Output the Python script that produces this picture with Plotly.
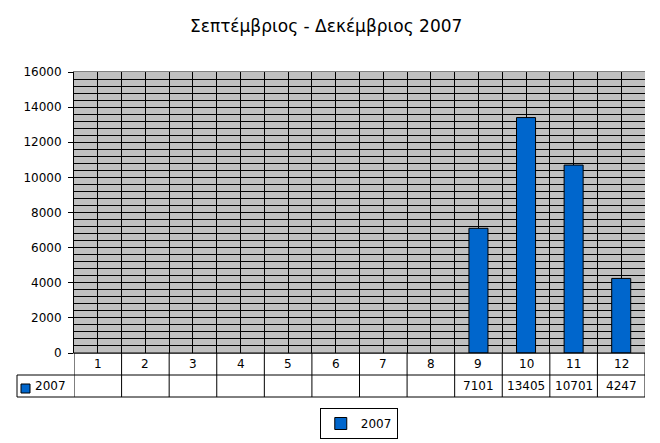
import plotly.graph_objects as go

months = list(range(1, 13))
values_2007 = [None, None, None, None, None, None, None, None, 7101, 13405, 10701, 4247]
series_name = "2007"
title = "Σεπτέμβριος - Δεκέμβριος 2007"

FONT = "DejaVu Sans"
BLUE = "#0066CC"

fig = go.Figure(go.Bar(
    x=months,
    y=values_2007,
    name=series_name,
    width=0.4,
    marker=dict(color=BLUE, line=dict(color="black", width=1)),
))

# plot area is 571 x 281 px; table rows 22 px each under it
row1 = -22 / 281
row2 = -44 / 281
left = -57 / 571

shapes = []
line = dict(color="black", width=1)
# table horizontal lines
shapes.append(dict(type="line", xref="paper", yref="paper", x0=0, x1=1, y0=0, y1=0, line=line))
shapes.append(dict(type="line", xref="paper", yref="paper", x0=left, x1=1, y0=row1, y1=row1, line=line))
shapes.append(dict(type="line", xref="paper", yref="paper", x0=left, x1=1, y0=row2, y1=row2, line=line))
shapes.append(dict(type="line", xref="paper", yref="paper", x0=left, x1=left, y0=row1, y1=row2, line=line))
# table vertical lines at category boundaries
for m in months + [0]:
    shapes.append(dict(type="line", xref="x", yref="paper", x0=m + 0.5, x1=m + 0.5,
                       y0=0, y1=row2, line=line))
# legend key in the table
shapes.append(dict(type="rect", xref="paper", yref="paper",
                   x0=-53 / 571, x1=-44 / 571, y0=-31 / 281, y1=-40 / 281,
                   fillcolor=BLUE, line=dict(color="black", width=1)))

txt = dict(family=FONT, size=12, color="black")
annotations = []
for m, v in zip(months, values_2007):
    annotations.append(dict(x=m, y=row1 / 2, xref="x", yref="paper", text=str(m),
                            xanchor="center", yanchor="middle", showarrow=False, font=txt))
    if v is not None:
        annotations.append(dict(x=m, y=(row1 + row2) / 2, xref="x", yref="paper", text=str(v),
                                xanchor="center", yanchor="middle", showarrow=False, font=txt))
annotations.append(dict(x=-41 / 571, y=(row1 + row2) / 2, xref="paper", yref="paper",
                        text=series_name, showarrow=False, xanchor="left", yanchor="middle",
                        font=txt))

# page body has an 8px margin, so the figure is a bit smaller than the window
fig.update_layout(
    width=652, height=435,
    margin=dict(l=66, r=15, t=64, b=90, autoexpand=False),
    paper_bgcolor="white",
    plot_bgcolor="#C0C0C0",
    title=dict(text=title, x=0.488, xref="container", y=0.958, yanchor="middle",
               font=dict(family=FONT, size=17, color="black")),
    font=txt,
    showlegend=True,
    legend=dict(x=0.538, xref="container", xanchor="center", y=35 / 435, yref="container",
                yanchor="top", orientation="h", itemwidth=30,
                bordercolor="black", borderwidth=1, bgcolor="white", font=txt),
    shapes=shapes,
    annotations=annotations,
)
fig.update_xaxes(range=[0.5, 12.5], tick0=0.5, dtick=0.5, showticklabels=False,
                 showgrid=True, gridcolor="black", gridwidth=1, zeroline=False,
                 showline=True, linecolor="#808080", mirror=True, ticks="", automargin=False)
fig.update_yaxes(range=[0, 16000], dtick=2000, tickformat="d", showgrid=True,
                 gridcolor="black", gridwidth=1,
                 minor=dict(dtick=400, showgrid=True, gridcolor="black", gridwidth=1),
                 ticks="outside", ticklen=5, tickcolor="black", zeroline=False,
                 showline=True, linecolor="black", ticklabelstandoff=4, automargin=False)

fig.write_html("out.html")
